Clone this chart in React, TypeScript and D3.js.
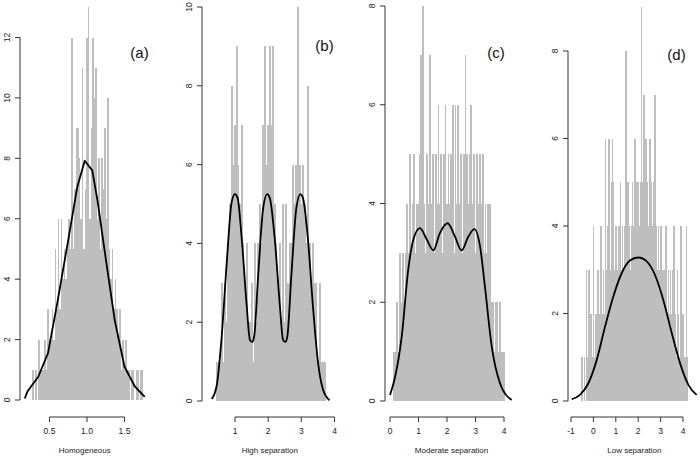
import React from 'react';
import * as d3 from 'd3';

// histogram counts (one vertical line per value)
const aStart = 0.28;
const aStep = 0.02;
const aCounts = [
  1, 0, 1, 0, 2, 1, 1, 1, 2, 1,
  3, 2, 2, 3, 2, 5, 3, 6, 3, 6,
  4, 5, 4, 5, 6, 5, 12, 5, 7, 9,
  9, 8, 6, 11, 5, 7, 12, 13, 6, 9,
  12, 10, 11, 6, 8, 5, 8, 7, 9, 6,
  10, 5, 4, 5, 3, 4, 3, 2, 3, 1,
  2, 1, 2, 1, 1, 0, 1, 1, 0, 1,
  1, 0, 1, 1,
];

const bStart = 0.45;
const bStep = 0.05;
const bCounts = [
  1, 1, 1, 3, 1, 3, 2, 4, 5, 8,
  6, 7, 9, 6, 5, 7, 4, 3, 4, 2,
  2, 3, 1, 4, 2, 4, 5, 4, 7, 9,
  6, 7, 9, 7, 9, 5, 4, 3, 4, 2,
  5, 2, 5, 3, 4, 4, 6, 5, 6, 10,
  6, 5, 6, 5, 4, 8, 4, 3, 4, 3,
  3, 1, 3, 1, 1, 1,
];

const cStart = 0.15;
const cStep = 0.05;
const cCounts = [
  1, 1, 2, 1, 3, 2, 3, 2, 3, 4,
  3, 5, 3, 4, 5, 3, 4, 4, 5, 7,
  8, 4, 3, 5, 4, 7, 4, 5, 3, 5,
  4, 6, 4, 5, 3, 5, 6, 4, 5, 4,
  5, 6, 3, 6, 4, 6, 4, 5, 3, 5,
  7, 5, 4, 5, 6, 4, 5, 3, 5, 4,
  5, 4, 5, 3, 4, 3, 4, 4, 2, 2,
  1, 2, 2, 1, 2, 1, 1, 1,
];

const dStart = -0.5;
const dStep = 0.05;
const dCounts = [
  1, 0, 1, 0, 3, 1, 3, 1, 2, 1,
  4, 1, 2, 2, 3, 1, 2, 4, 2, 3,
  2, 6, 3, 4, 6, 3, 5, 6, 5, 3,
  4, 2, 3, 4, 5, 3, 4, 3, 4, 8,
  3, 5, 4, 3, 4, 5, 4, 6, 5, 4,
  5, 4, 5, 9, 5, 7, 4, 6, 5, 4,
  6, 6, 5, 4, 5, 7, 4, 3, 4, 3,
  4, 4, 3, 2, 3, 4, 2, 3, 2, 3,
  2, 3, 4, 2, 1, 3, 2, 1, 4, 1,
  2, 1, 1, 4, 1,
];

// density curves
const aCurveX = [0.17, 0.21, 0.35, 0.48, 0.61, 0.75, 0.87, 0.97, 1.07, 1.14, 1.24, 1.37, 1.5, 1.64, 1.77];
const aCurveY = [0.05, 0.3, 0.77, 1.55, 3.3, 5.3, 7.05, 7.92, 7.6, 6.6, 4.85, 2.64, 1.1, 0.44, 0.1];

const bCurveX = [0.3, 0.45, 0.6, 0.75, 0.9, 1.0, 1.08, 1.2, 1.35, 1.45, 1.52, 1.58, 1.7, 1.85, 1.97, 2.05, 2.2, 2.35, 2.45, 2.52, 2.58, 2.7, 2.85, 2.97, 3.05, 3.2, 3.35, 3.5, 3.65, 3.85];
const bCurveY = [0.05, 0.4, 1.65, 3.5, 5.05, 5.25, 5.15, 4.15, 2.45, 1.55, 1.5, 1.65, 3.2, 4.9, 5.25, 5.15, 4.1, 2.45, 1.55, 1.5, 1.65, 3.2, 4.9, 5.25, 5.15, 4.1, 2.4, 1.0, 0.3, 0.02];

const cCurveX = [0.0, 0.18, 0.41, 0.64, 0.82, 1.05, 1.29, 1.52, 1.75, 2.02, 2.28, 2.51, 2.75, 2.96, 3.16, 3.33, 3.57, 3.86, 4.27];
const cCurveY = [0.12, 0.49, 1.3, 2.66, 3.27, 3.5, 3.27, 3.05, 3.4, 3.6, 3.33, 3.05, 3.33, 3.48, 3.13, 2.32, 1.1, 0.36, 0.02];

const dCurveX = [-0.97, -0.6, -0.23, 0.15, 0.52, 0.89, 1.26, 1.63, 2.0, 2.38, 2.75, 3.12, 3.5, 3.87, 4.24, 4.61];
const dCurveY = [0.04, 0.14, 0.4, 0.94, 1.7, 2.39, 2.92, 3.21, 3.28, 3.19, 2.88, 2.31, 1.55, 0.86, 0.37, 0.14];

// axis ticks
const aXTicks = [0.5, 1.0, 1.5];
const aXLabels = ['0.5', '1.0', '1.5'];
const bXTicks = [1, 2, 3, 4];
const cXTicks = [0, 1, 2, 3, 4];
const dXTicks = [-1, 0, 1, 2, 3, 4];
const aYTicks = [0, 2, 4, 6, 8, 10, 12];
const bYTicks = [0, 2, 4, 6, 8, 10];
const cYTicks = [0, 2, 4, 6, 8];
const dYTicks = [0, 2, 4, 6, 8];

const titles = ['Homogeneous', 'High separation', 'Moderate separation', 'Low separation'];
const tags = ['(a)', '(b)', '(c)', '(d)'];

const FONT = '"Liberation Sans", Arial, Helvetica, sans-serif';
const AXIS_Y = 417;

const panels = [
  {
    start: aStart, step: aStep, counts: aCounts, cx: aCurveX, cy: aCurveY, smooth: false,
    xTicks: aXTicks, xLabels: aXLabels, yTicks: aYTicks,
    xDom: [0.5, 1.5], xRange: [49.5, 124.5], yDom: [0, 12], yRange: [400, 37.5],
    axisX: 20, titleAt: 0.97, tagPos: [139.5, 57.5],
  },
  {
    start: bStart, step: bStep, counts: bCounts, cx: bCurveX, cy: bCurveY, smooth: true,
    xTicks: bXTicks, xLabels: bXTicks.map(String), yTicks: bYTicks,
    xDom: [1, 4], xRange: [235, 334.5], yDom: [0, 10], yRange: [401, 7],
    axisX: 202, titleAt: 2.05, tagPos: [324.5, 51],
  },
  {
    start: cStart, step: cStep, counts: cCounts, cx: cCurveX, cy: cCurveY, smooth: true,
    xTicks: cXTicks, xLabels: cXTicks.map(String), yTicks: cYTicks,
    xDom: [0, 4], xRange: [390, 504], yDom: [0, 8], yRange: [401, 6],
    axisX: 385, titleAt: 2.16, tagPos: [496, 58],
  },
  {
    start: dStart, step: dStep, counts: dCounts, cx: dCurveX, cy: dCurveY, smooth: true,
    xTicks: dXTicks, xLabels: dXTicks.map(String), yTicks: dYTicks,
    xDom: [-1, 4], xRange: [571, 683], yDom: [0, 8], yRange: [401, 51],
    axisX: 568, titleAt: 1.83, tagPos: [676.5, 59.5],
  },
];

function Panel({ p, title, tag }: any) {
  const x = d3.scaleLinear().domain(p.xDom).range(p.xRange);
  const y = d3.scaleLinear().domain(p.yDom).range(p.yRange);
  const spacing = Math.abs(x(p.step) - x(0));
  const bw = spacing + 0.4;

  const pts: [number, number][] = p.cx.map((v: number, i: number) => [v, p.cy[i]]);
  const line = d3.line<[number, number]>()
    .x(d => x(d[0]))
    .y(d => y(d[1]))
    .curve(p.smooth ? d3.curveMonotoneX : d3.curveLinear);

  const yTop = y(p.yTicks[p.yTicks.length - 1]);
  const y0 = y(0);
  const xFirst = x(p.xTicks[0]);
  const xLast = x(p.xTicks[p.xTicks.length - 1]);

  return (
    <g>
      <g shapeRendering="crispEdges">
        {p.counts.map((c: number, i: number) => c > 0 && (
          <rect key={i}
            x={x(p.start + i * p.step) - bw / 2}
            y={y(c)}
            width={bw}
            height={y0 - y(c)}
            fill="#bebebe" />
        ))}
      </g>
      <path d={line(pts) || ''} fill="none" stroke="#000" strokeWidth={1.8} strokeLinejoin="round" />

      {/* y axis */}
      <line x1={p.axisX} x2={p.axisX} y1={y0} y2={yTop} stroke="#333" strokeWidth={1} />
      {p.yTicks.map((t: number) => (
        <g key={t}>
          <line x1={p.axisX - 5} x2={p.axisX} y1={y(t)} y2={y(t)} stroke="#333" strokeWidth={1} />
          <text transform={`translate(${p.axisX - 10},${y(t)}) rotate(-90)`}
            textAnchor="middle" fontSize={8.5} fontFamily={FONT} fill="#222">{t}</text>
        </g>
      ))}

      {/* x axis */}
      <line x1={xFirst} x2={xLast} y1={AXIS_Y} y2={AXIS_Y} stroke="#333" strokeWidth={1} />
      {p.xTicks.map((t: number, i: number) => (
        <g key={t}>
          <line x1={x(t)} x2={x(t)} y1={AXIS_Y} y2={AXIS_Y + 5} stroke="#333" strokeWidth={1} />
          <text x={x(t)} y={434} textAnchor="middle" fontSize={8.5} fontFamily={FONT} fill="#222">{p.xLabels[i]}</text>
        </g>
      ))}
      <text x={x(p.titleAt)} y={453} textAnchor="middle" fontSize={8} fontFamily={FONT} fill="#222">{title}</text>
      <text x={p.tagPos[0]} y={p.tagPos[1]} textAnchor="middle" fontSize={15} fontFamily={FONT} fill="#111">{tag}</text>
    </g>
  );
}

export default function App() {
  return (
    <svg width={700} height={458} viewBox="0 0 700 458"
      style={{ position: 'fixed', left: 0, top: 0, background: '#fff', display: 'block' }}>
      <rect width={700} height={458} fill="#fff" />
      {panels.map((p, i) => (
        <Panel key={i} p={p} title={titles[i]} tag={tags[i]} />
      ))}
    </svg>
  );
}
